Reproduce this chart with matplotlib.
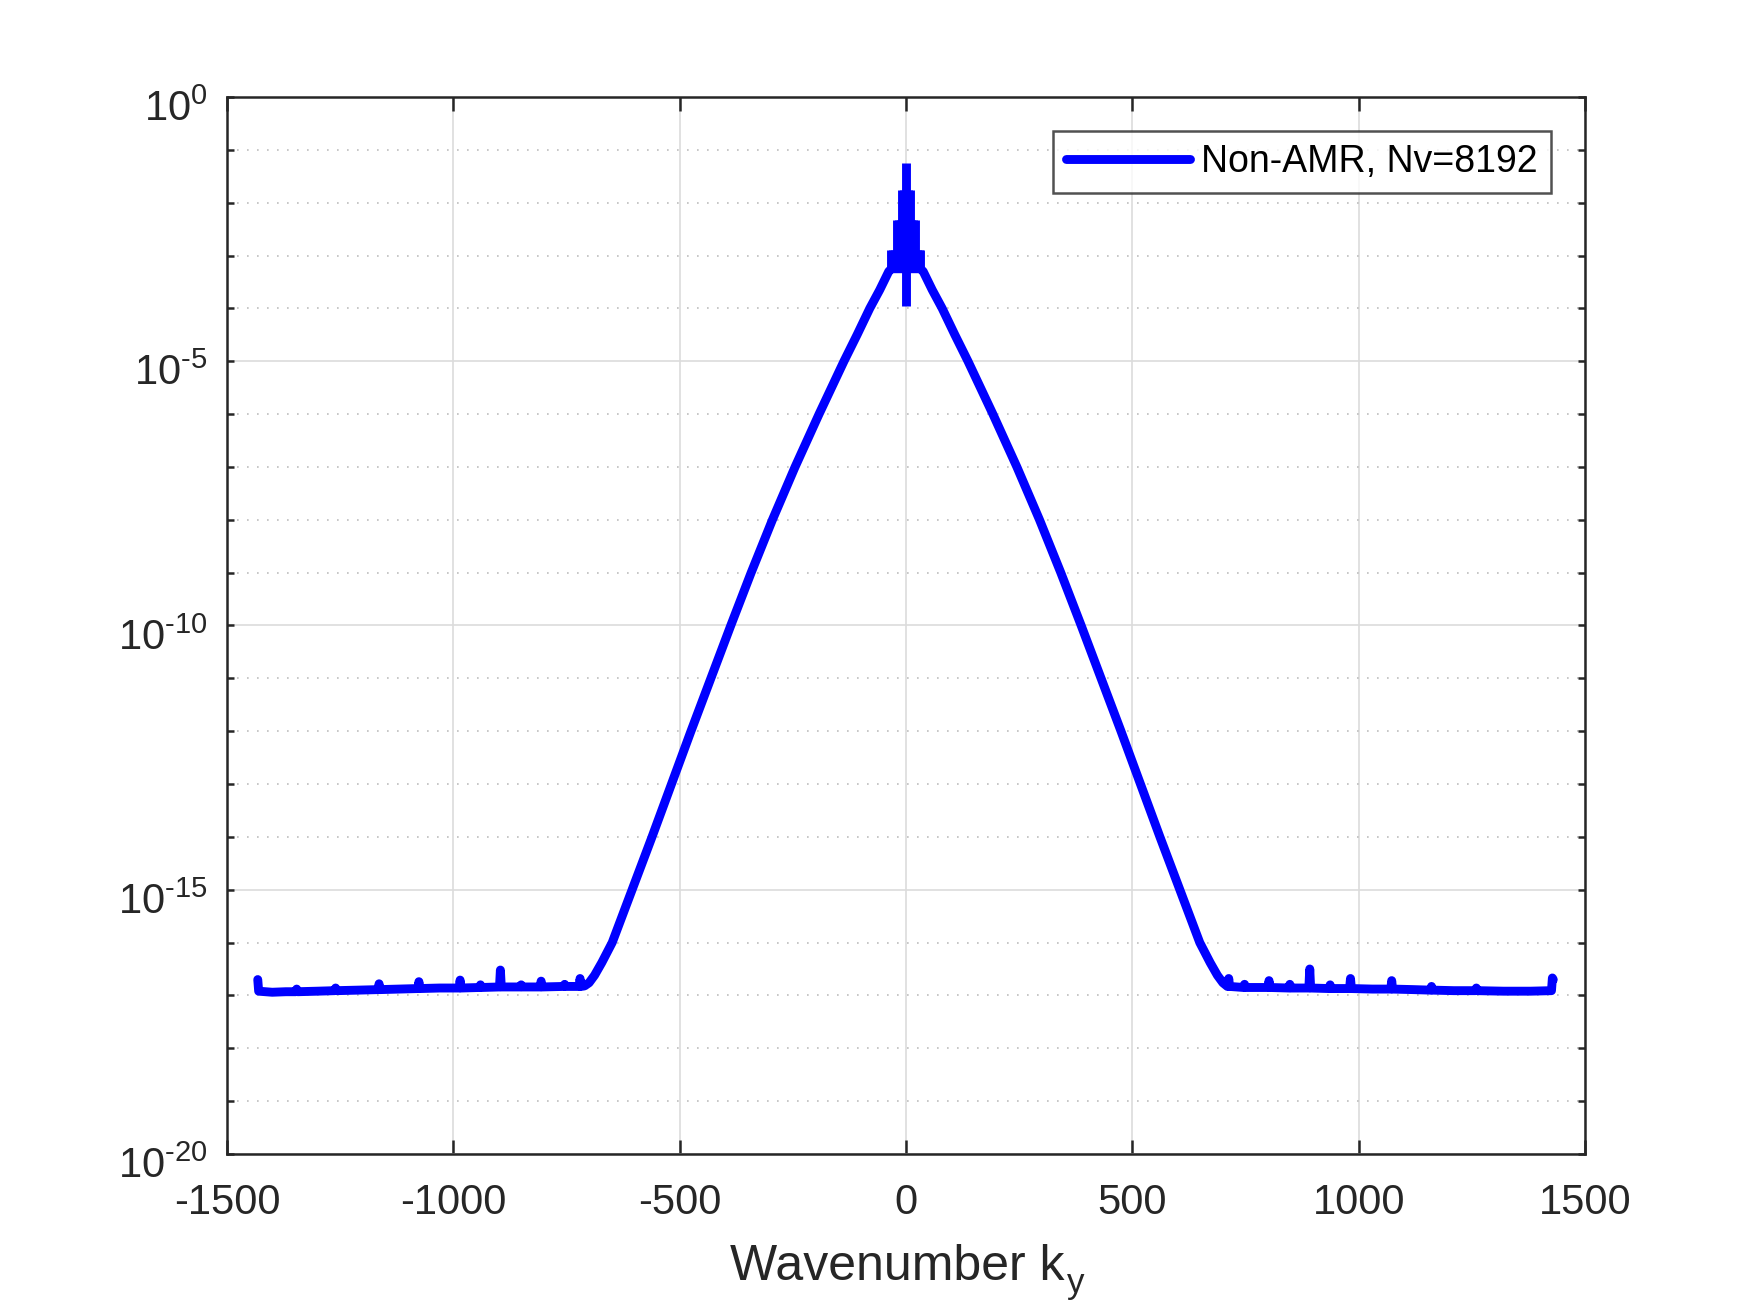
"""
Wavenumber spectrum (k_y) of the non-AMR run, log y axis, MATLAB-like look.
"""

import numpy as np
import matplotlib
matplotlib.use("Agg")
import matplotlib.pyplot as plt
import matplotlib.transforms as mtransforms
from matplotlib.ticker import FixedLocator, NullFormatter, FuncFormatter

# ---- data (log10 of the spectrum) ----
# main curve: left floor -> left flank -> top -> right flank -> right floor
k_main = [
    -1432, -1430, -1400, -1370, -1348, -1346, -1344, -1300, -1262, -1260, -1258,
    -1210, -1166, -1164, -1162, -1120, -1078, -1076, -1074, -1030, -987, -985,
    -983, -942, -940, -938, -898, -896, -894, -852, -850, -848, -808, -806,
    -804, -756, -754, -752, -722, -720, -718, -710,
    -700, -688, -672, -649, -605, -561, -518, -475, -431, -387, -342, -295,
    -245, -192, -137, -108, -80, -58, -38, -32,
    32, 38, 58, 80, 108, 137, 192, 245, 295, 342, 387, 431, 475, 518, 561,
    605, 649, 672, 688, 700,
    710, 711, 713, 715, 746, 748, 750, 800, 802, 804, 846, 848, 850, 890, 892,
    894, 935, 937, 939, 980, 982, 984, 1030, 1071, 1073, 1075, 1120, 1159,
    1161, 1163, 1210, 1258, 1260, 1262, 1320, 1380, 1426, 1428, 1430,
]
logp_main = [
    -16.70, -16.92, -16.94, -16.93, -16.93, -16.88, -16.93, -16.92, -16.91, -16.86, -16.91,
    -16.90, -16.89, -16.78, -16.89, -16.88, -16.87, -16.74, -16.87, -16.86, -16.86, -16.71,
    -16.86, -16.85, -16.80, -16.85, -16.84, -16.52, -16.84, -16.84, -16.80, -16.84, -16.84, -16.73,
    -16.84, -16.83, -16.79, -16.83, -16.83, -16.68, -16.83, -16.82,
    -16.76, -16.62, -16.38, -16.0, -15.0, -14.0, -13.0, -12.0, -11.0, -10.0, -9.0, -8.0,
    -7.0, -6.0, -5.0, -4.5, -4.0, -3.65, -3.3, -3.25,
    -3.25, -3.3, -3.65, -4.0, -4.5, -5.0, -6.0, -7.0, -8.0, -9.0, -10.0, -11.0, -12.0, -13.0, -14.0,
    -15.0, -16.0, -16.38, -16.62, -16.76,
    -16.83, -16.83, -16.68, -16.83, -16.85, -16.79, -16.85, -16.85, -16.72, -16.85, -16.86, -16.79, -16.86, -16.86, -16.50,
    -16.86, -16.87, -16.80, -16.87, -16.87, -16.68, -16.87, -16.88, -16.88, -16.72, -16.88, -16.89, -16.90,
    -16.83, -16.90, -16.91, -16.91, -16.86, -16.91, -16.92, -16.92, -16.91, -16.67, -16.70,
]

# dense oscillating core around k = 0 (top / bottom of each vertical stroke)
k_core = [-32, -28, -24, -20, -16, -12, -8, -4, 0, 4, 8, 12, 16, 20, 24, 28, 32]
logp_core_top = [-2.9, -2.9, -2.9, -2.33, -2.33, -2.33, -1.76, -1.76, -1.25,
                 -1.76, -1.76, -2.33, -2.33, -2.33, -2.9, -2.9, -2.9]
logp_core_bot = [-3.3, -3.3, -3.3, -3.3, -3.3, -3.3, -3.3, -3.3, -3.95,
                 -3.3, -3.3, -3.3, -3.3, -3.3, -3.3, -3.3, -3.3]

series_label = "Non-AMR, Nv=8192"
x_ticks = [-1500, -1000, -500, 0, 500, 1000, 1500]
y_major_exp = [-20, -15, -10, -5, 0]

# ---- style ----
plt.rcParams["font.family"] = ["Liberation Sans", "DejaVu Sans"]
plt.rcParams["mathtext.fontset"] = "custom"
plt.rcParams["mathtext.rm"] = "Liberation Sans"
plt.rcParams["mathtext.it"] = "Liberation Sans"
plt.rcParams["mathtext.default"] = "regular"

ink = "#262626"
blue = "#0000ff"
lw_data = 3.2

fig = plt.figure(figsize=(8.75, 6.51), dpi=200)
ax = fig.add_axes([0.1297, 0.1137, 0.9057 - 0.1297, 0.9255 - 0.1137])

ax.plot(k_main, 10.0 ** np.array(logp_main), color=blue, lw=lw_data,
        solid_joinstyle="round", solid_capstyle="round", label=series_label, zorder=3)
ax.vlines(k_core, 10.0 ** np.array(logp_core_bot), 10.0 ** np.array(logp_core_top),
          color=blue, lw=lw_data, zorder=3)

ax.set_yscale("log")
ax.set_xlim(-1500, 1500)
ax.set_ylim(1e-20, 1e0)
ax.set_xticks(x_ticks)
ax.set_xticklabels([str(v) for v in x_ticks])
ax.yaxis.set_major_locator(FixedLocator([10.0 ** e for e in y_major_exp]))
ax.yaxis.set_minor_locator(FixedLocator([10.0 ** e for e in range(-20, 1)]))
ax.yaxis.set_minor_formatter(NullFormatter())
ax.xaxis.set_minor_locator(FixedLocator([]))


def decade_label(v, pos):
    e = int(round(np.log10(v)))
    if e < 0:
        return r"$10^{\text{-%d}}$" % (-e)
    return r"$10^{%d}$" % e


ax.yaxis.set_major_formatter(FuncFormatter(decade_label))

# grid: solid major, dotted minor (y only)
ax.grid(True, which="major", color="#dcdcdc", lw=0.6, ls="-", zorder=0)
ax.grid(True, which="minor", axis="y", color="#bdbdbd", lw=0.6, ls=(0, (1, 5)), zorder=0)
ax.set_axisbelow(True)

for s in ax.spines.values():
    s.set_color(ink)
    s.set_linewidth(0.9)

ax.tick_params(axis="both", which="both", direction="in", top=True, right=True,
               colors=ink, labelsize=15, width=0.9)
ax.tick_params(axis="x", which="major", length=5, pad=10.5)
ax.tick_params(axis="y", which="both", length=2.5, pad=7)

# shift y labels down a bit, like MATLAB puts them
shift = mtransforms.ScaledTranslation(0, -3.0 / 72, fig.dpi_scale_trans)
for lab in ax.get_yticklabels():
    lab.set_transform(lab.get_transform() + shift)

# x label with a big, low subscript
fig.text(1065 / 1750, 1 - 1280 / 1302, "Wavenumber k", fontsize=18, color=ink,
         ha="right", va="baseline")
fig.text(1067 / 1750, 1 - 1293 / 1302, "y", fontsize=12.6, color=ink,
         ha="left", va="baseline")

leg = ax.legend(loc="upper right", fontsize=13.5, frameon=True, fancybox=False,
                handlelength=3.3, borderaxespad=0.9, borderpad=0.35, handletextpad=0.3)
leg.get_frame().set_edgecolor(ink)
leg.get_frame().set_linewidth(0.9)

fig.savefig("out.png", dpi=200, facecolor="white")
